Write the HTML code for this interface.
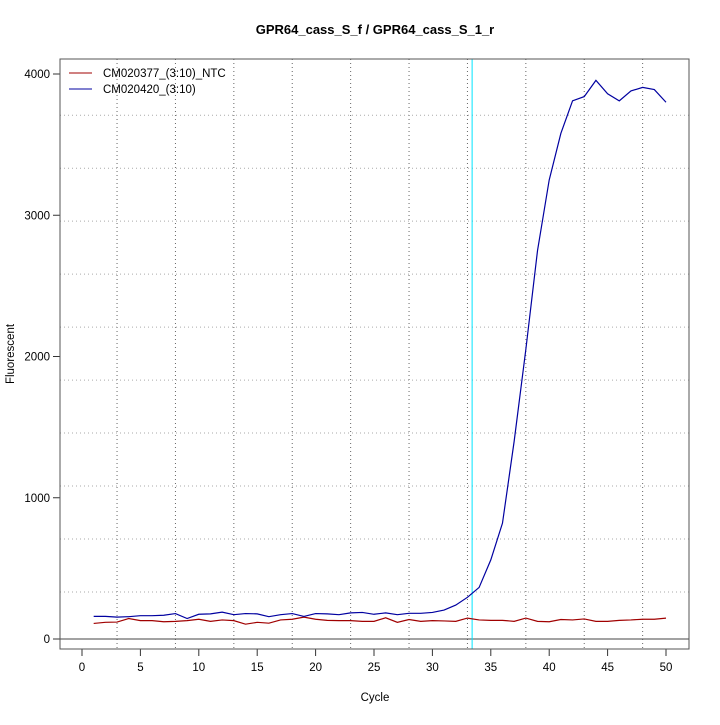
<!DOCTYPE html>
<html><head><meta charset="utf-8"><style>
body{margin:0;background:#fff}
svg text{font-family:"Liberation Sans",sans-serif;font-size:11.5px}
</style></head><body>
<svg id="chart" width="720" height="720" xmlns="http://www.w3.org/2000/svg">
<rect width="720" height="720" fill="#fff"/>
<text x="375" y="34" text-anchor="middle" style="font-weight:bold;font-size:13px">GPR64_cass_S_f / GPR64_cass_S_1_r</text>
<g id="grid"></g>
<g id="marks"></g>
<g id="axes"></g>
<rect x="60" y="59" width="629" height="590" fill="none" stroke="#555" stroke-width="1"/>
<text x="375" y="701" text-anchor="middle">Cycle</text>
<text x="14" y="354" text-anchor="middle" transform="rotate(-90 14 354)">Fluorescent</text>
<g>
<line x1="69" y1="73" x2="92" y2="73" stroke="#a00000"/>
<text x="103" y="77">CM020377_(3:10)_NTC</text>
<line x1="69" y1="89" x2="92" y2="89" stroke="#0000a0"/>
<text x="103" y="93">CM020420_(3:10)</text>
</g>
</svg>
<script>
const cycles=[1,2,3,4,5,6,7,8,9,10,11,12,13,14,15,16,17,18,19,20,21,22,23,24,25,26,27,28,29,30,31,32,33,34,35,36,37,38,39,40,41,42,43,44,45,46,47,48,49,50];
const sampleValues=[160,160,155,158,165,165,168,180,145,175,178,190,172,180,178,158,172,180,160,180,178,172,185,188,175,185,172,182,182,188,205,240,295,365,560,820,1400,2050,2750,3250,3580,3810,3840,3955,3860,3810,3880,3905,3890,3800];
const ntcValues=[110,118,120,145,130,130,122,125,130,140,125,135,130,105,118,112,135,140,155,140,132,130,130,125,125,150,118,138,125,130,128,125,148,135,132,132,125,148,125,122,138,135,142,125,125,132,135,140,140,148];
const xTicks=[0,5,10,15,20,25,30,35,40,45,50];
const yTicks=[0,1000,2000,3000,4000];
const xGrid=[3,8,13,18,23,28,33,38,43,48];
const yGrid=[333,708,1083,1458,1833,2208,2583,2958,3333,3708];
const threshold=33.4;
const NS='http://www.w3.org/2000/svg';
const X=v=>82+v*11.68, Y=v=>639-v*0.14125;
function mk(tag,attrs,parent){const e=document.createElementNS(NS,tag);for(const k in attrs)e.setAttribute(k,attrs[k]);parent.appendChild(e);return e;}
const grid=document.getElementById('grid'),marks=document.getElementById('marks'),axes=document.getElementById('axes');
xGrid.forEach(c=>{const l=mk('line',{x1:X(c),x2:X(c),y1:59,y2:649,stroke:'#666','stroke-dasharray':'1,3'},grid);

});
yGrid.forEach(v=>{const l=mk('line',{x1:60,x2:689,y1:Y(v),y2:Y(v),stroke:'#aaa','stroke-dasharray':'1,3'},grid);

});
const zl=mk('line',{x1:60,x2:689,y1:Y(0),y2:Y(0),stroke:'#444'},grid);


const th=mk('line',{x1:X(threshold),x2:X(threshold),y1:59,y2:649,stroke:'#00e5ff','stroke-width':1},marks);


function series(vals,color,name){const p=mk('polyline',{points:cycles.map((c,i)=>X(c)+','+Y(vals[i])).join(' '),fill:'none',stroke:color,'stroke-width':1.2},marks);

}
series(ntcValues,'#a00000','ntc-line');
series(sampleValues,'#0000a0','sample-line');
xTicks.forEach(t=>{const l=mk('line',{x1:X(t),x2:X(t),y1:649,y2:656,stroke:'#333'},axes);


const tx=mk('text',{x:X(t),y:671,'text-anchor':'middle'},axes);tx.textContent=t;

});
yTicks.forEach(t=>{const l=mk('line',{x1:53,x2:60,y1:Y(t),y2:Y(t),stroke:'#333'},axes);


const tx=mk('text',{x:50,y:Y(t)+4,'text-anchor':'end'},axes);tx.textContent=t;

});
</script>
</body></html>
